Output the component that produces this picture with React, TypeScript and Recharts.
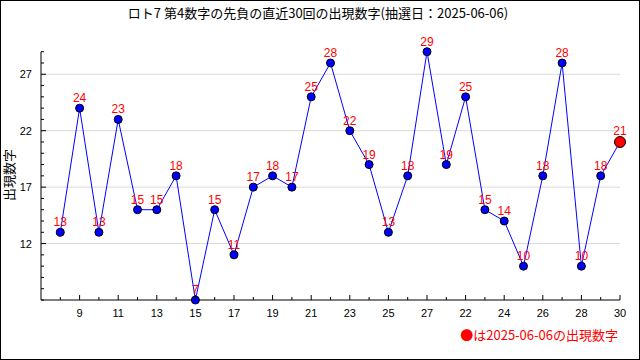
import React from 'react';
import { LineChart, Line, XAxis, YAxis, ReferenceLine, LabelList } from 'recharts';

const drawIndex = [1, 2, 3, 4, 5, 6, 7, 8, 9, 10, 11, 12, 13, 14, 15, 16, 17, 18, 19, 20, 21, 22, 23, 24, 25, 26, 27, 28, 29, 30];
const xLabels = ['8', '9', '10', '11', '12', '13', '14', '15', '16', '17', '18', '19', '20', '21', '22', '23', '24', '25', '26', '27', '21', '22', '23', '24', '25', '26', '27', '28', '29', '30'];
const values = [13, 24, 13, 23, 15, 15, 18, 7, 15, 11, 17, 18, 17, 25, 28, 22, 19, 13, 18, 29, 19, 25, 15, 14, 10, 18, 28, 10, 18, 21];
const yTicks = [7, 8, 9, 10, 11, 12, 13, 14, 15, 16, 17, 18, 19, 20, 21, 22, 23, 24, 25, 26, 27, 28, 29];
const yMajor = [12, 17, 22, 27];

const title = 'ロト7 第4数字の先負の直近30回の出現数字(抽選日：2025-06-06)';
const yTitle = '出現数字';
const legendText = '●は2025-06-06の出現数字';

const data = drawIndex.map((idx, i) => ({ idx, label: xLabels[i], value: values[i] }));

const CJK = '"Noto Sans CJK JP", "Noto Sans", sans-serif';
const NUM = '"Liberation Sans", Arial, sans-serif';

const XTick = (props: any) => {
  const { x, y, payload } = props;
  const idx = payload.value as number;
  const major = idx % 2 === 0;
  return (
    <g>
      <line x1={x} x2={x} y1={y} y2={y - (major ? 5 : 3)} stroke="#000" strokeWidth={1} />
      {major && (
        <text x={x} y={y + 17} textAnchor="middle" fontSize={11} fontFamily={NUM} fill="#000">
          {xLabels[idx - 1]}
        </text>
      )}
    </g>
  );
};

const YTick = (props: any) => {
  const { x, y, payload } = props;
  const v = payload.value as number;
  const major = yMajor.includes(v);
  return (
    <g>
      <line x1={x} x2={x + (major ? 5 : 3)} y1={y} y2={y} stroke="#000" strokeWidth={1} />
      {major && (
        <text x={x - 9} y={y + 4} textAnchor="end" fontSize={11} fontFamily={NUM} fill="#000">
          {v}
        </text>
      )}
    </g>
  );
};

const Dot = (props: any) => {
  const { cx, cy, index } = props;
  const last = index === values.length - 1;
  return (
    <circle
      key={`d${index}`}
      cx={cx}
      cy={cy}
      r={last ? 5.5 : 4}
      fill={last ? '#ff0000' : '#0000ff'}
      stroke="#000"
      strokeWidth={1}
    />
  );
};

const ValueLabel = (props: any) => {
  const { x, y, value, index } = props;
  const last = index === values.length - 1;
  return (
    <text x={x} y={y - (last ? 7 : 6)} textAnchor="middle" fontSize={12} fontFamily={NUM} fill="#ff0000">
      {value}
    </text>
  );
};

export default function App() {
  return (
    <div style={{ position: 'absolute', left: 0, top: 0, width: 640, height: 360, background: '#fff' }}>
      <LineChart
        width={640}
        height={360}
        data={data}
        margin={{ top: 51.7, right: 20, bottom: 0, left: 0 }}
      >
        <XAxis
          dataKey="idx"
          type="number"
          domain={[0, 30]}
          ticks={drawIndex}
          interval={0}
          height={60}
          tickSize={0}
          tickMargin={0}
          tick={<XTick />}
          axisLine={{ stroke: '#000', strokeWidth: 1 }}
        />
        <YAxis
          type="number"
          domain={[7, 29]}
          ticks={yTicks}
          interval={0}
          width={41}
          tickSize={0}
          tickMargin={0}
          tick={<YTick />}
          axisLine={{ stroke: '#000', strokeWidth: 1 }}
        />
        {yMajor.map((v) => (
          <ReferenceLine key={v} y={v} stroke="#d9d9d9" strokeWidth={1} />
        ))}
        <Line
          dataKey="value"
          type="linear"
          stroke="#0000ff"
          strokeWidth={1}
          dot={<Dot />}
          activeDot={false}
          isAnimationActive={false}
        >
          <LabelList dataKey="value" content={<ValueLabel />} />
        </Line>
      </LineChart>
      <div
        style={{
          position: 'absolute',
          left: 0,
          top: 4,
          width: 636,
          textAlign: 'center',
          fontFamily: CJK,
          fontSize: 13,
          lineHeight: '18px',
          color: '#000',
          whiteSpace: 'nowrap',
        }}
      >
        {title}
      </div>
      <div
        style={{
          position: 'absolute',
          left: 9,
          top: 175,
          transform: 'translate(-50%, -50%) rotate(-90deg)',
          fontFamily: CJK,
          fontSize: 13,
          lineHeight: '16px',
          color: '#000',
          whiteSpace: 'nowrap',
        }}
      >
        {yTitle}
      </div>
      <div
        style={{
          position: 'absolute',
          right: 22,
          top: 326,
          fontFamily: CJK,
          fontSize: 13,
          lineHeight: '18px',
          color: '#ff0000',
          whiteSpace: 'nowrap',
        }}
      >
        {legendText}
      </div>
      <div
        style={{
          position: 'absolute',
          left: 0,
          top: 0,
          width: 640,
          height: 360,
          boxSizing: 'border-box',
          border: '1px solid #000',
          pointerEvents: 'none',
        }}
      />
    </div>
  );
}
